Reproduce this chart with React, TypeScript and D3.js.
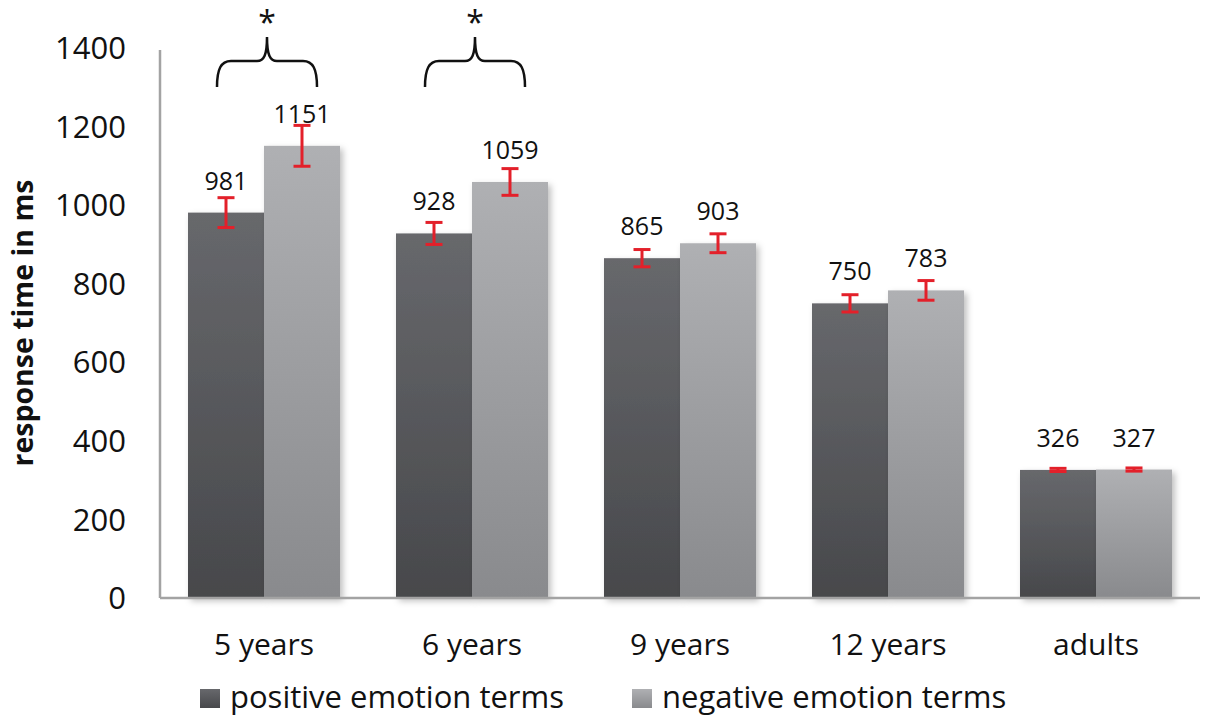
import React from "react";
import * as d3 from "d3";

const categories = ["5 years", "6 years", "9 years", "12 years", "adults"];
const seriesNames = ["positive emotion terms", "negative emotion terms"];
const positive = [981, 928, 865, 750, 326];
const negative = [1151, 1059, 903, 783, 327];
const positiveErr = [38, 28, 22, 22, 4];
const negativeErr = [52, 34, 24, 25, 4];
const yTicks = [0, 200, 400, 600, 800, 1000, 1200, 1400];
const significant = ["5 years", "6 years"];

const W = 1211;
const H = 724;
const left = 160;
const right = 1200;
const top = 48;
const bottom = 598;
const FONT = "'Open Sans', 'Noto Sans', sans-serif";

export default function App() {
  const y = d3.scaleLinear().domain([0, 1400]).range([bottom, top]);
  const x0 = d3
    .scaleBand<string>()
    .domain(categories)
    .range([left, right])
    .paddingInner(56 / 208)
    .paddingOuter(28 / 208);
  const x1 = d3
    .scaleBand<string>()
    .domain(seriesNames)
    .range([0, x0.bandwidth()])
    .padding(0);

  const series = [
    { name: seriesNames[0], values: positive, errs: positiveErr, grad: "gDark" },
    { name: seriesNames[1], values: negative, errs: negativeErr, grad: "gLight" },
  ];

  const bracePath = (cx: number) => {
    const w = 50;
    const tipY = 87;
    const midY = 61;
    const apexY = 37;
    return `M${cx - w},${tipY} C${cx - w},${midY + 8} ${cx - w + 4},${midY} ${cx - w + 14},${midY} L${cx - 10},${midY} C${cx - 3},${midY} ${cx},${midY - 6} ${cx},${apexY} C${cx},${midY - 6} ${cx + 3},${midY} ${cx + 10},${midY} L${cx + w - 14},${midY} C${cx + w - 4},${midY} ${cx + w},${midY + 8} ${cx + w},${tipY}`;
  };

  return (
    <svg
      width={W}
      height={H}
      style={{ position: "absolute", left: 0, top: 0, background: "#fff" }}
      fontFamily={FONT}
    >
      <defs>
        <linearGradient id="gDark" x1="0" y1="0" x2="0" y2="1">
          <stop offset="0" stopColor="#67686c" />
          <stop offset="1" stopColor="#47484b" />
        </linearGradient>
        <linearGradient id="gLight" x1="0" y1="0" x2="0" y2="1">
          <stop offset="0" stopColor="#afb0b3" />
          <stop offset="1" stopColor="#898a8d" />
        </linearGradient>
        <filter id="shadow" x="-20%" y="-20%" width="140%" height="140%">
          <feDropShadow dx="3" dy="3" stdDeviation="3" floodColor="#000" floodOpacity="0.25" />
        </filter>
      </defs>

      {/* y tick labels */}
      {yTicks.map((t) => (
        <text
          key={t}
          x={126}
          y={y(t)}
          dy="0.36em"
          textAnchor="end"
          fontSize={31}
          fill="#111"
        >
          {t}
        </text>
      ))}

      {/* y axis title */}
      <text
        transform={`translate(33,${323}) rotate(-90)`}
        textAnchor="middle"
        fontSize={28.5}
        fontWeight="bold"
        fill="#111"
      >
        response time in ms
      </text>

      {/* bars */}
      {series.map((s) =>
        categories.map((c, i) => (
          <rect
            key={s.name + c}
            x={(x0(c) as number) + (x1(s.name) as number)}
            y={y(s.values[i])}
            width={x1.bandwidth()}
            height={bottom - y(s.values[i])}
            fill={`url(#${s.grad})`}
            filter="url(#shadow)"
          />
        ))
      )}

      {/* axes */}
      <line x1={left} x2={left} y1={y(1400) + 2} y2={bottom} stroke="#a3a3a3" strokeWidth={2.5} />
      <line x1={left} x2={right} y1={bottom} y2={bottom} stroke="#a3a3a3" strokeWidth={2.5} />

      {/* error bars */}
      {series.map((s) =>
        categories.map((c, i) => {
          const cx = (x0(c) as number) + (x1(s.name) as number) + x1.bandwidth() / 2;
          const yt = y(s.values[i] + s.errs[i]);
          const yb = y(s.values[i] - s.errs[i]);
          const cap = 8.5;
          return (
            <g key={"e" + s.name + c} stroke="#e3202a" strokeWidth={3}>
              <line x1={cx} x2={cx} y1={yt} y2={yb} />
              <line x1={cx - cap} x2={cx + cap} y1={yt} y2={yt} />
              <line x1={cx - cap} x2={cx + cap} y1={yb} y2={yb} />
            </g>
          );
        })
      )}

      {/* value labels */}
      {series.map((s) =>
        categories.map((c, i) => (
          <text
            key={"v" + s.name + c}
            x={(x0(c) as number) + (x1(s.name) as number) + x1.bandwidth() / 2}
            y={y(s.values[i]) - 23}
            textAnchor="middle"
            fontSize={25}
            fill="#111"
          >
            {s.values[i]}
          </text>
        ))
      )}

      {/* x labels */}
      {categories.map((c) => (
        <text
          key={"x" + c}
          x={(x0(c) as number) + x0.bandwidth() / 2}
          y={655}
          textAnchor="middle"
          fontSize={30}
          fill="#111"
        >
          {c}
        </text>
      ))}

      {/* significance braces */}
      {significant.map((c) => {
        const cx = (x0(c) as number) + x0.bandwidth() / 2 + 3;
        return (
          <g key={"b" + c}>
            <path d={bracePath(cx)} fill="none" stroke="#111" strokeWidth={2.5} />
            <text x={cx} y={34} textAnchor="middle" fontSize={32} fill="#111">
              *
            </text>
          </g>
        );
      })}

      {/* legend */}
      {series.map((s, i) => {
        const lx = i === 0 ? 200 : 632;
        return (
          <g key={"l" + s.name}>
            <rect x={lx} y={689} width={20} height={19} fill={`url(#${s.grad})`} />
            <text x={lx + 30} y={708} fontSize={31} fill="#111">
              {s.name}
            </text>
          </g>
        );
      })}
    </svg>
  );
}
